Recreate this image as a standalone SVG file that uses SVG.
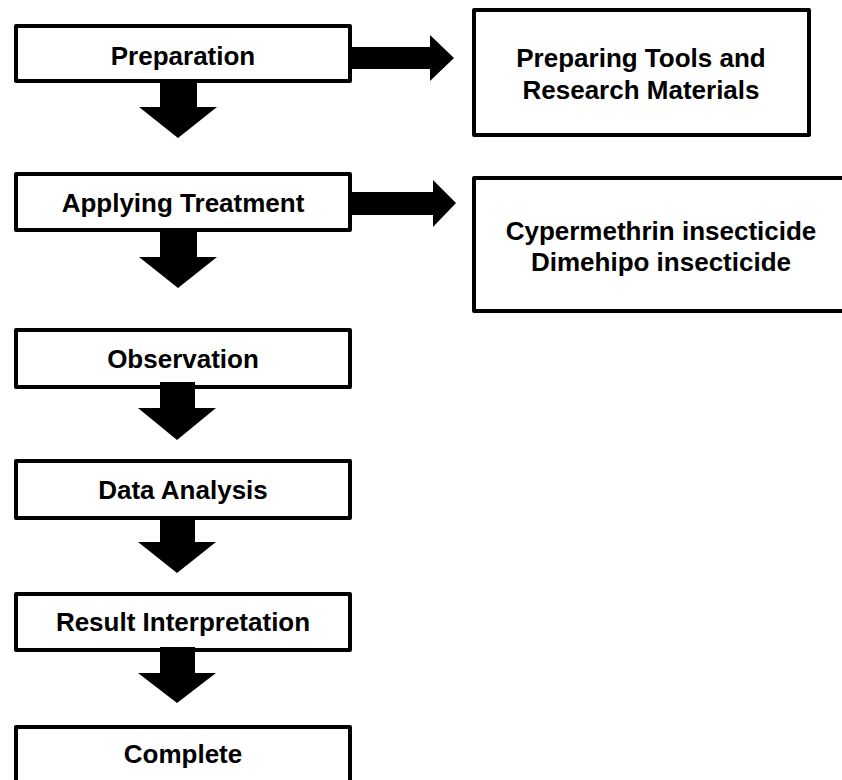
<svg xmlns="http://www.w3.org/2000/svg" width="842" height="780" viewBox="0 0 842 780">
<style>
.box{fill:#fff;stroke:#000;stroke-width:4;stroke-linejoin:round}
.lbl{font-family:"Liberation Sans",Arial,sans-serif;font-weight:bold;font-size:26px;fill:#000;text-anchor:middle}
.arr{fill:#000;stroke:none}
</style>
<rect width="842" height="780" fill="#fff"/>
<g id="nodes">
<g id="preparation"><rect class="box" x="16" y="26" width="334" height="55"/><text class="lbl" x="183" y="65">Preparation</text></g>
<g id="applying"><rect class="box" x="16" y="174" width="334" height="56"/><text class="lbl" x="183" y="212">Applying Treatment</text></g>
<g id="observation"><rect class="box" x="16" y="330" width="334" height="57"/><text class="lbl" x="183" y="368">Observation</text></g>
<g id="analysis"><rect class="box" x="16" y="461" width="334" height="57"/><text class="lbl" x="183" y="499">Data Analysis</text></g>
<g id="interpretation"><rect class="box" x="16" y="594" width="334" height="56"/><text class="lbl" x="183" y="631">Result Interpretation</text></g>
<g id="complete"><rect class="box" x="16" y="727" width="334" height="70"/><text class="lbl" x="183" y="763">Complete</text></g>
<g id="tools"><rect class="box" x="474" y="10" width="335" height="125"/><text class="lbl" x="641" y="67">Preparing Tools and</text><text class="lbl" x="641" y="99">Research Materials</text></g>
<g id="insecticides"><rect class="box" x="474" y="178" width="380" height="133"/><text class="lbl" x="661" y="240">Cypermethrin insecticide</text><text class="lbl" x="661" y="271">Dimehipo insecticide</text></g>
</g>
<g id="connectors">
<polygon class="arr" points="160,81 197,81 197,107 217,107 178,138 139,107 160,107"/>
<polygon class="arr" points="160,230 197,230 197,257 217,257 178,288 139,257 160,257"/>
<polygon class="arr" points="160,382 195,382 195,408 216,408 177,440 138,408 160,408"/>
<polygon class="arr" points="160,518 195,518 195,542 216,542 177,573 138,542 160,542"/>
<polygon class="arr" points="160,647 195,647 195,673 216,673 177,703 138,673 160,673"/>
<polygon class="arr" points="350,47 430,47 430,35 454,58 430,81 430,69 350,69"/>
<polygon class="arr" points="350,192 433,192 433,180 456,203 433,227 433,215 350,215"/>
</g>
</svg>
